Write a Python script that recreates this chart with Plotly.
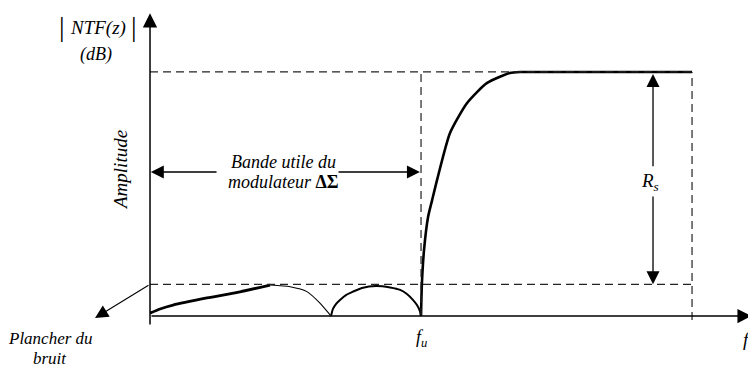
"""Schéma |NTF(z)| d'un modulateur delta-sigma."""
import plotly.graph_objects as go

INK = "#000000"
FONT = "Liberation Serif, Times New Roman, serif"

# fréquence en % de f_u, amplitude en % du plateau R_s
FU = 100
F_END = 200
PLATEAU = 100
FLOOR = 13

rise_x = [0, 3.7, 8.5, 21.0, 33.2, 44.3]
rise_y = [1.2, 2.9, 4.5, 7.4, 9.9, 12.7]

arc1_x = [44.3, 51.7, 57.9, 62.7, 65.3, 66.8]
arc1_y = [12.7, 12.0, 10.0, 5.3, 2.0, 0]

arc2_x = [66.8, 67.5, 68.6, 70.1, 72.3, 74.9, 78.2, 83.4, 88.6, 92.3, 94.8, 97.0, 98.5, 99.6, 100]
arc2_y = [0, 2.9, 4.9, 6.6, 8.6, 10.0, 11.5, 12.3, 11.7, 10.7, 9.0, 6.6, 4.5, 2.0, 0]

hp_x = [100, 100.3, 101.1, 102.6, 104.1, 105.9, 110.7, 117.0, 124.4, 132.8, 136.5, 200]
hp_y = [0, 12.7, 27.0, 40.6, 47.5, 55.7, 75.0, 87.3, 95.5, 99.6, 100, 100]


def curve(x, y, w, smooth=0.6):
    return go.Scatter(x=x, y=y, mode="lines", hoverinfo="skip",
                      line=dict(color=INK, width=w, shape="spline", smoothing=smooth))


fig = go.Figure()
fig.add_trace(curve(rise_x, rise_y, 2.8))
fig.add_trace(curve(arc1_x, arc1_y, 1.1))
fig.add_trace(curve(arc2_x, arc2_y, 2.0))
fig.add_trace(curve(hp_x[:-1], hp_y[:-1], 2.6))
fig.add_trace(go.Scatter(x=hp_x[-2:], y=hp_y[-2:], mode="lines", hoverinfo="skip",
                         line=dict(color=INK, width=2.6)))

dash = dict(color="#222", width=1.2, dash="8px,5px")
fig.add_shape(type="line", x0=0, x1=F_END, y0=PLATEAU, y1=PLATEAU, line=dash)
fig.add_shape(type="line", x0=0, x1=F_END, y0=FLOOR, y1=FLOOR, line=dash)
fig.add_shape(type="line", x0=FU, x1=FU, y0=0, y1=PLATEAU, line=dash)
fig.add_shape(type="line", x0=F_END, x1=F_END, y0=-1.6, y1=PLATEAU, line=dash)


def arrow(x, y, ax, ay, w=1.3, size=2.0):
    fig.add_annotation(x=x, y=y, ax=ax, ay=ay, xref="x", yref="y",
                       axref="x", ayref="y", text="", showarrow=True,
                       arrowhead=2, arrowsize=size, arrowwidth=w, arrowcolor=INK)


# axes
arrow(0, 124, 0, -4.1, 1.5, 1.9)
arrow(222, 0, 0, 0, 1.5, 1.9)
# bande utile
arrow(0.3, 59, 25.1, 59)
arrow(99.6, 59, 69, 59)
# R_s
arrow(185.6, 99.2, 185.6, 60.7)
arrow(185.6, FLOOR, 185.6, 49.6)
# plancher du bruit
arrow(-20.3, -0.8, 0, FLOOR, 1.1, 2.4)


def label(x, y, text, size=17, angle=0):
    fig.add_annotation(x=x, y=y, xref="x", yref="y", text=text, showarrow=False,
                       textangle=angle, font=dict(family=FONT, size=size, color=INK))


label(-32.3, 118.6, "|", 28)
label(-19.2, 118.0, "<i>NTF(z)</i>", 19)
label(-5.9, 118.6, "|", 28)
label(-19.9, 107.0, "<i>(dB)</i>", 18)
label(-11.1, 59.8, "<i>Amplitude</i>", 19, -90)
label(49.1, 63.1, "<i>Bande utile du</i>", 18)
label(49.1, 54.9, "<i>modulateur </i><b>ΔΣ</b>", 18)
label(184.5, 54.9, "<i>R<sub>s</sub></i>", 19)
label(-36.9, -9.0, "<i>Plancher du</i>", 17)
label(-36.9, -17.2, "<i>bruit</i>", 17)
label(100, -9, "<i>f<sub>u</sub></i>", 18)
label(220.3, -9.8, "<i>f</i>", 19)

# la page ajoute 8 px de marge : la figure occupe 748x361 et les plages suivent
fig.update_layout(
    width=748, height=361, margin=dict(l=0, r=0, t=0, b=0),
    paper_bgcolor="white", plot_bgcolor="white", showlegend=False,
)
fig.update_xaxes(range=[-52.4, 223.6], visible=False)
fig.update_yaxes(range=[-21.7, 126.2], visible=False)
fig.write_html("out.html")
